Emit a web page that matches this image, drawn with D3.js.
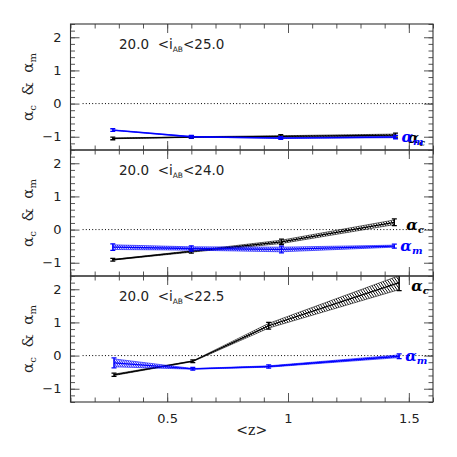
<!DOCTYPE html>
<html>
<head>
<meta charset="utf-8">
<script src="https://cdn.jsdelivr.net/npm/d3@7"></script>
<style>
  body { margin: 0; background: #fff; }
  svg { display: block; }
  text { white-space: pre; }
</style>
</head>
<body>
<svg id="chart"></svg>
<script>
// magnitude cuts, one per panel (top to bottom)
const magLabels = ['25.0', '24.0', '22.5'];

// mean redshift of the bins, per panel
const zTop = [0.275, 0.60, 0.97, 1.445];
const zMid = [0.275, 0.60, 0.973, 1.44];
const zBot = [0.28, 0.606, 0.92, 1.46];

// alpha_c (black) and alpha_m (blue) with their errors
const alphaCTop = [-1.05, -1.01, -0.99, -0.95];
const errCTop = [0.01, 0.01, 0.02, 0.03];
const alphaMTop = [-0.80, -1.00, -1.04, -1.01];
const errMTop = [0.01, 0.01, 0.01, 0.02];

const alphaCMid = [-0.91, -0.66, -0.37, 0.22];
const errCMid = [0.01, 0.02, 0.05, 0.07];
const alphaMMid = [-0.53, -0.57, -0.60, -0.50];
const errMMid = [0.07, 0.05, 0.07, 0.03];

const alphaCBot = [-0.58, -0.17, 0.90, 2.20];
const errCBot = [0.02, 0.01, 0.07, 0.21];
const alphaMBot = [-0.22, -0.40, -0.33, -0.02];
const errMBot = [0.12, 0.01, 0.02, 0.04];

const yMajor = [-1, 0, 1, 2];
const xMajor = [0.5, 1, 1.5];
const xLabels = ['0.5', '1', '1.5'];

const w = 457, h = 457;
const margin = { top: 24, left: 70.5, right: 24 };
const panelH = 126;
const blue = '#0000ff';

const svg = d3.select('#chart').attr('width', w).attr('height', h);
svg.append('rect').attr('width', w).attr('height', h).attr('fill', '#fff');

const defs = svg.append('defs');
function hatch(id, color, size, sw) {
  defs.append('pattern')
    .attr('id', id)
    .attr('patternUnits', 'userSpaceOnUse')
    .attr('width', size)
    .attr('height', size)
    .attr('patternTransform', 'rotate(-35)')
    .append('line')
    .attr('x1', 0).attr('y1', 0).attr('x2', 0).attr('y2', size)
    .attr('stroke', color)
    .attr('stroke-width', sw);
}
hatch('hatchK', '#000', 2.3, 1.5);
hatch('hatchB', blue, 1.8, 1.6);

const xScale = d3.scaleLinear().domain([0.1, 1.6]).range([margin.left, w - margin.right]);

const panels = [
  { z: zTop, c: alphaCTop, ec: errCTop, m: alphaMTop, em: errMTop },
  { z: zMid, c: alphaCMid, ec: errCMid, m: alphaMMid, em: errMMid },
  { z: zBot, c: alphaCBot, ec: errCBot, m: alphaMBot, em: errMBot }
];

const xMinor = d3.range(1, 17).map((d) => d / 10);
const yMinor = d3.range(-7, 13).map((d) => d / 5);

panels.forEach((p, i) => {
  const top = margin.top + i * panelH;
  const yScale = d3.scaleLinear().domain([-1.4, 2.4]).range([top + panelH, top]);
  const g = svg.append('g');

  const clipId = `clip${i}`;
  defs.append('clipPath').attr('id', clipId)
    .append('rect')
    .attr('x', margin.left).attr('y', top)
    .attr('width', w - margin.right - margin.left).attr('height', panelH);

  // zero line
  g.append('line')
    .attr('x1', xScale(0.15)).attr('x2', xScale(1.6))
    .attr('y1', yScale(0)).attr('y2', yScale(0))
    .attr('stroke', '#000').attr('stroke-width', 1)
    .attr('stroke-dasharray', '1,2.2');

  const series = [
    { v: p.c, e: p.ec, color: '#000', fill: 'url(#hatchK)' },
    { v: p.m, e: p.em, color: blue, fill: 'url(#hatchB)' }
  ];
  const plot = g.append('g').attr('clip-path', `url(#${clipId})`);

  series.forEach((s) => {
    const pts = p.z.map((z, k) => ({ z, v: s.v[k], e: s.e[k] }));
    plot.append('path')
      .datum(pts)
      .attr('d', d3.area()
        .x((d) => xScale(d.z))
        .y0((d) => yScale(d.v - d.e))
        .y1((d) => yScale(d.v + d.e)))
      .attr('fill', s.fill)
      .attr('stroke', s.color)
      .attr('stroke-width', 0.6);
    plot.append('path')
      .datum(pts)
      .attr('d', d3.line().x((d) => xScale(d.z)).y((d) => yScale(d.v)))
      .attr('fill', 'none')
      .attr('stroke', s.color)
      .attr('stroke-width', 1.3);
    const bars = plot.selectAll(null).data(pts).enter().append('g').attr('stroke', s.color).attr('stroke-width', 1.3);
    bars.append('line')
      .attr('x1', (d) => xScale(d.z)).attr('x2', (d) => xScale(d.z))
      .attr('y1', (d) => yScale(d.v - d.e) + 1).attr('y2', (d) => yScale(d.v + d.e) - 1);
    bars.append('line')
      .attr('x1', (d) => xScale(d.z) - 2.5).attr('x2', (d) => xScale(d.z) + 2.5)
      .attr('y1', (d) => yScale(d.v - d.e) + 1).attr('y2', (d) => yScale(d.v - d.e) + 1);
    bars.append('line')
      .attr('x1', (d) => xScale(d.z) - 2.5).attr('x2', (d) => xScale(d.z) + 2.5)
      .attr('y1', (d) => yScale(d.v + d.e) - 1).attr('y2', (d) => yScale(d.v + d.e) - 1);
  });

  // axes: ticks pointing inward on all four sides
  const axisStyle = (sel) => {
    sel.select('.domain').remove();
    sel.selectAll('line').attr('stroke', '#555').attr('stroke-width', 1);
    sel.selectAll('text')
      .attr('fill', '#222')
      .style('font-family', "'DejaVu Sans', sans-serif")
      .style('font-size', '13px');
  };

  g.append('g').attr('transform', `translate(${margin.left},0)`)
    .call(d3.axisLeft(yScale).tickValues(yMajor).tickSize(-9).tickPadding(9)
      .tickFormat((d) => d < 0 ? '\u2212' + Math.abs(d) : d))
    .call(axisStyle);
  g.append('g').attr('transform', `translate(${margin.left},0)`)
    .call(d3.axisLeft(yScale).tickValues(yMinor).tickSize(-4.5).tickFormat(''))
    .call(axisStyle);
  g.append('g').attr('transform', `translate(${w - margin.right},0)`)
    .call(d3.axisRight(yScale).tickValues(yMajor).tickSize(-9).tickFormat(''))
    .call(axisStyle);
  g.append('g').attr('transform', `translate(${w - margin.right},0)`)
    .call(d3.axisRight(yScale).tickValues(yMinor).tickSize(-4.5).tickFormat(''))
    .call(axisStyle);

  g.append('g').attr('transform', `translate(0,${top})`)
    .call(d3.axisTop(xScale).tickValues(xMajor).tickSize(-9).tickFormat(''))
    .call(axisStyle);
  g.append('g').attr('transform', `translate(0,${top})`)
    .call(d3.axisTop(xScale).tickValues(xMinor).tickSize(-4.5).tickFormat(''))
    .call(axisStyle);
  g.append('g').attr('transform', `translate(0,${top + panelH})`)
    .call(d3.axisBottom(xScale).tickValues(xMajor).tickSize(-9).tickPadding(12)
      .tickFormat((d, k) => i === panels.length - 1 ? xLabels[k] : ''))
    .call(axisStyle);
  g.append('g').attr('transform', `translate(0,${top + panelH})`)
    .call(d3.axisBottom(xScale).tickValues(xMinor).tickSize(-4.5).tickFormat(''))
    .call(axisStyle);

  // frame
  g.append('rect')
    .attr('x', margin.left).attr('y', top)
    .attr('width', w - margin.right - margin.left).attr('height', panelH)
    .attr('fill', 'none').attr('stroke', '#333').attr('stroke-width', 1.1);

  // magnitude range
  const title = g.append('text')
    .attr('x', 119).attr('y', top + 24.5)
    .attr('fill', '#222')
    .style('font-family', "'DejaVu Sans', sans-serif")
    .style('font-size', '13.5px');
  title.append('tspan').text('20.0  <i');
  title.append('tspan').attr('dy', 3).style('font-size', '7.5px').text('AB');
  title.append('tspan').attr('dy', -3).text(`<${magLabels[i]}`);

  // y label
  const ylab = g.append('text')
    .attr('transform', `translate(33,${top + 63}) rotate(-90)`)
    .attr('text-anchor', 'middle')
    .attr('fill', '#222')
    .style('font-family', "'DejaVu Serif', serif")
    .style('font-size', '15px');
  ylab.append('tspan').text('\u03b1');
  ylab.append('tspan').attr('dy', 3).style('font-size', '10px').text('c');
  ylab.append('tspan').attr('dy', -3).text('  &  \u03b1');
  ylab.append('tspan').attr('dy', 3).style('font-size', '10px').text('m');

  // series labels at the end of each curve
  const last = p.z.length - 1;
  const tagC = g.append('text')
    .attr('x', xScale(p.z[last]) + 12).attr('y', yScale(p.c[last]) + 8)
    .attr('fill', '#000')
    .style('font-family', "'DejaVu Serif', serif")
    .style('font-style', 'italic').style('font-weight', 'bold')
    .style('font-size', '15px');
  tagC.append('tspan').text('\u03b1');
  tagC.append('tspan').attr('dy', 3).style('font-size', '10px').text('c');

  const tagM = g.append('text')
    .attr('x', xScale(p.z[last]) + 6).attr('y', yScale(p.m[last]) + 5)
    .attr('fill', blue)
    .style('font-family', "'DejaVu Serif', serif")
    .style('font-style', 'italic').style('font-weight', 'bold')
    .style('font-size', '15px');
  tagM.append('tspan').text('\u03b1');
  tagM.append('tspan').attr('dy', 3).style('font-size', '10px').text('m');
});

// x label
svg.append('text')
  .attr('x', xScale(0.85)).attr('y', 435)
  .attr('text-anchor', 'middle')
  .attr('fill', '#222')
  .style('font-family', "'DejaVu Serif', serif")
  .style('font-size', '14px')
  .text('<z>');
</script>
</body>
</html>
